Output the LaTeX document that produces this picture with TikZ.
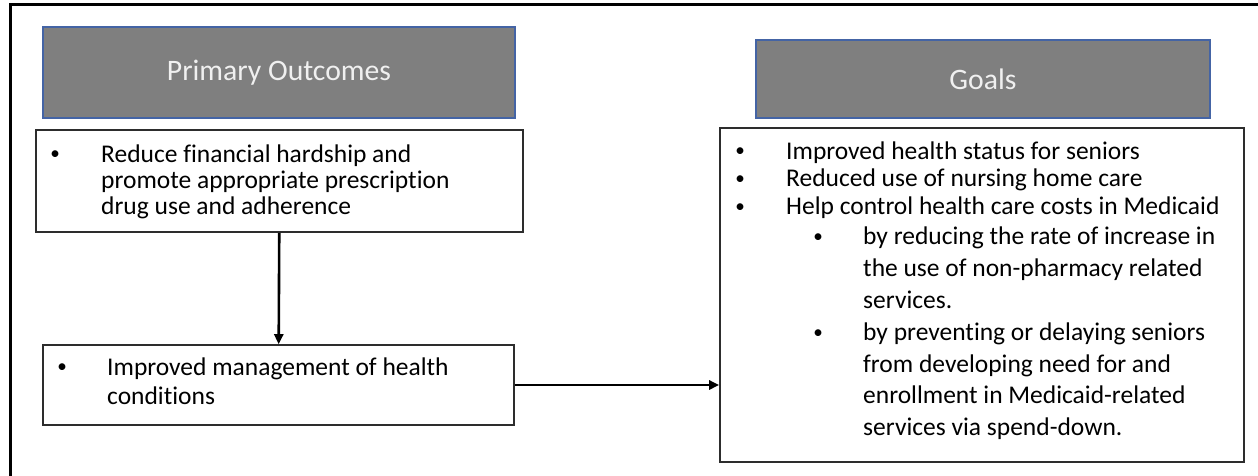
\documentclass[tikz,border=0pt]{standalone}
\usepackage{fontspec}
\setmainfont{Carlito}[Ligatures=CommonOff]
\usetikzlibrary{arrows.meta}
\definecolor{hdrfill}{RGB}{127,127,127}
\definecolor{hdrline}{RGB}{68,100,165}
\definecolor{boxline}{RGB}{45,45,45}
\newcommand{\bodyfont}{\fontsize{25.5}{31.8}\selectfont}
\newcommand{\headfont}{\fontsize{29.7}{36}\selectfont}
\newcommand{\bul}{\makebox[0pt]{\raisebox{2.2pt}{\scalebox{0.75}{\textbullet}}}}
\begin{document}
\begin{tikzpicture}[x=1pt,y=-1pt]
\tikzstyle{header}=[draw=hdrline,line width=2pt,fill=hdrfill,text=white!94!black,font=\headfont,inner sep=0pt]
\tikzstyle{frame}=[draw=boxline,line width=1.6pt,inner sep=0pt]
\tikzstyle{txt}=[anchor=base west,inner sep=0pt,font=\bodyfont]
\tikzstyle{arr}=[line width=2.6pt,-{Triangle[length=10pt,width=9pt]}]
\useasboundingbox (0,0) rectangle (1258,476);
\draw[line width=3pt] (10.5,476) -- (10.5,5) -- (1258,5);
% headers
\node [header,minimum width=472pt,minimum height=91pt] (outhead) at (279,72.5) {Primary Outcomes};
\node [header,minimum width=454pt,minimum height=78pt] (goalhead) at (983,79) {Goals};
% boxes
\node [frame,minimum width=487pt,minimum height=102pt] (hardship) at (279.5,181) {};
\node [frame,minimum width=471pt,minimum height=80pt] (manage) at (278.5,385) {};
\node [frame,minimum width=524pt,minimum height=334pt] (goals) at (982,295) {};
% box texts
\node [txt] (hardtext) at (55,162) {\renewcommand\arraystretch{0.833}%
\begin{tabular}[t]{@{}p{46pt}@{}l@{}}
\bul & Reduce financial hardship and\\
 & promote appropriate prescription\\
 & drug use and adherence
\end{tabular}};
\node [txt] (managetext) at (62,375) {\renewcommand\arraystretch{0.943}%
\begin{tabular}[t]{@{}p{45pt}@{}l@{}}
\bul & Improved management of health\\
 & conditions
\end{tabular}};
\node [txt] (goaltext) at (740,159) {\renewcommand\arraystretch{0.88}%
\begin{tabular}[t]{@{}p{46pt}@{}p{77pt}@{}l@{}}
\bul & \multicolumn{2}{@{}l@{}}{Improved health status for seniors}\\
\bul & \multicolumn{2}{@{}l@{}}{Reduced use of nursing home care}\\
\bul & \multicolumn{2}{@{}l@{}}{Help control health care costs in Medicaid}\\[2pt]
 & \hspace*{32pt}\bul & by reducing the rate of increase in\\[3.8pt]
 & & the use of non-pharmacy related\\[3.8pt]
 & & services.\\[3.8pt]
 & \hspace*{32pt}\bul & by preventing or delaying seniors\\[3.8pt]
 & & from developing need for and\\[3.8pt]
 & & enrollment in Medicaid-related\\[3.8pt]
 & & services via spend-down.
\end{tabular}};
% arrows
\draw[arr] (hardship) -- (manage);
\draw[arr] (manage.east) -- (manage.east -| goals.west);
\end{tikzpicture}
\end{document}
